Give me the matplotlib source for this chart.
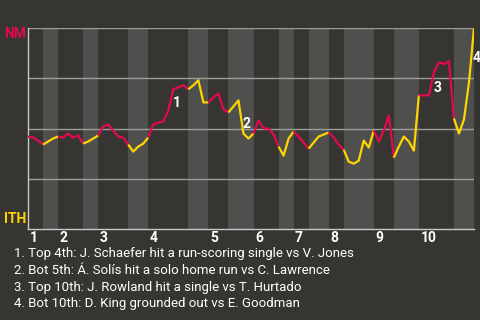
import numpy as np
import matplotlib
matplotlib.use("Agg")
import matplotlib.pyplot as plt

plt.rcParams['font.family'] = ['Roboto', 'DejaVu Sans']

# plays in each half inning (top 1, bot 1, top 2, ...)
half_plays = [3, 3, 5, 3, 6, 4, 8, 4, 4, 5, 5, 3, 3, 4, 3, 6, 4, 5, 7, 4]

# NM win probability after each play (first value = start of game)
win_prob = [0.46, 0.455, 0.44, 0.42, 0.435, 0.45, 0.46, 0.455, 0.475, 0.455,
            0.465, 0.425, 0.435, 0.45, 0.465, 0.51, 0.52, 0.49, 0.46, 0.455,
            0.42, 0.385, 0.41, 0.425, 0.455, 0.52, 0.53, 0.535, 0.59, 0.695,
            0.705, 0.715, 0.695, 0.715, 0.74, 0.63, 0.63, 0.655, 0.675, 0.595,
            0.58, 0.61, 0.64, 0.475, 0.45, 0.475, 0.54, 0.50, 0.50, 0.47,
            0.41, 0.365, 0.45, 0.485, 0.46, 0.43, 0.40, 0.43, 0.46, 0.47,
            0.48, 0.455, 0.42, 0.395, 0.335, 0.325, 0.34, 0.44, 0.405, 0.49,
            0.435, 0.49, 0.565, 0.355, 0.41, 0.46, 0.435, 0.39, 0.665, 0.665,
            0.665, 0.78, 0.83, 0.82, 0.835, 0.55, 0.475, 0.545, 0.73, 1.0]

# key moments: (label, play position, probability)
key_moments = [("1", 29.6, 0.625), ("2", 43.6, 0.52), ("3", 81.8, 0.70), ("4", 89.6, 0.85)]

notes = [
    "1. Top 4th: J. Schaefer hit a run-scoring single vs V. Jones",
    "2. Bot 5th: Á. Solís hit a solo home run vs C. Lawrence",
    "3. Top 10th: J. Rowland hit a single vs T. Hurtado",
    "4. Bot 10th: D. King grounded out vs E. Goodman",
]

bg = '#373532'
stripe = '#4f4f4d'
red = '#e3094f'
yellow = '#ffd500'

fig = plt.figure(figsize=(4.8, 3.2), dpi=100, facecolor=bg)
ax = fig.add_axes([28 / 480, 1 - 229 / 320, 446 / 480, 201 / 320])
ax.set_facecolor(bg)

bounds = np.concatenate([[0], np.cumsum(half_plays)])
x = np.arange(len(win_prob))

for i in range(len(half_plays)):
    a, b = bounds[i], bounds[i + 1]
    if i % 2 == 1:
        ax.axvspan(a, b, color=stripe, lw=0, zorder=0)
    ax.plot(x[a:b + 1], win_prob[a:b + 1], color=red if i % 2 == 0 else yellow,
            lw=1.6, zorder=3, solid_capstyle='butt')

for yv in [0.25, 0.5, 0.75, 1.0]:
    ax.axhline(yv, color='#9c9c9a', lw=1, zorder=1)

ax.set_xlim(0, bounds[-1])
ax.set_ylim(0, 1)
ax.set_xticks([])
ax.set_yticks([])
for s in ['top', 'right']:
    ax.spines[s].set_visible(False)
for s in ['left', 'bottom']:
    ax.spines[s].set_color('#c8c8c8')
    ax.spines[s].set_linewidth(1)

for inn in range(10):
    ax.text(bounds[2 * inn] + 0.3, -0.045, str(inn + 1), transform=ax.get_xaxis_transform(),
            color='white', fontsize=10, fontweight='bold', ha='left', va='center')

for lab, px, py in key_moments:
    ax.text(px, py, lab, color='white', fontsize=10, fontweight='bold',
            ha='center', va='center', zorder=4, clip_on=False)

fig.text(4 / 480, 1 - 34 / 320, "NM", color=red, fontsize=10, fontweight='bold', va='center')
fig.text(4 / 480, 1 - 219 / 320, "ITH", color=yellow, fontsize=10, fontweight='bold', va='center')

for i, t in enumerate(notes):
    fig.text(14 / 480, 1 - (253 + 17 * i) / 320, t, color='white', fontsize=9.5, va='center')

fig.savefig('out.png', dpi=100, facecolor=bg)
